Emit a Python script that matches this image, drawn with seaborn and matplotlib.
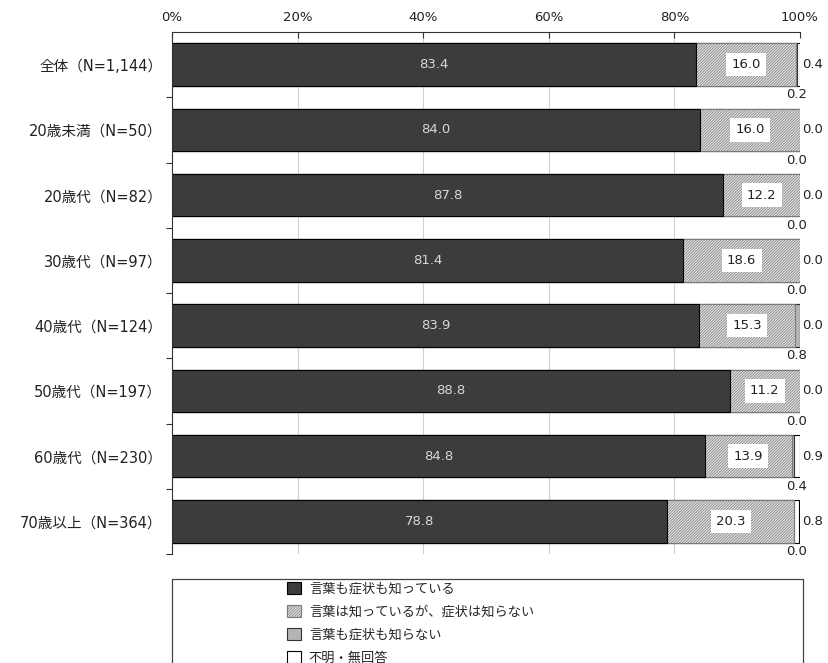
import matplotlib
matplotlib.use("Agg")
import matplotlib.pyplot as plt
from matplotlib.patches import Patch, Rectangle
from matplotlib.ticker import FixedLocator
import numpy as np
import pandas as pd
import seaborn as sns

# Survey groups and response shares (%)
groups = ["全体（N=1,144）", "20歳未満（N=50）", "20歳代（N=82）", "30歳代（N=97）",
          "40歳代（N=124）", "50歳代（N=197）", "60歳代（N=230）", "70歳以上（N=364）"]
know_both = [83.4, 84.0, 87.8, 81.4, 83.9, 88.8, 84.8, 78.8]
know_word_only = [16.0, 16.0, 12.2, 18.6, 15.3, 11.2, 13.9, 20.3]
know_neither = [0.2, 0.0, 0.0, 0.0, 0.8, 0.0, 0.4, 0.0]
no_answer = [0.4, 0.0, 0.0, 0.0, 0.0, 0.0, 0.9, 0.8]
series_names = ["言葉も症状も知っている", "言葉は知っているが、症状は知らない",
                "言葉も症状も知らない", "不明・無回答"]
tick_labels = ["0%", "20%", "40%", "60%", "80%", "100%"]

sns.set_theme(style="white")
plt.rcParams["font.family"] = ["Noto Sans CJK JP", "DejaVu Sans"]
plt.rcParams["hatch.linewidth"] = 0.5

df = pd.DataFrame({
    "group": groups,
    "s1": know_both,
    "s2": know_word_only,
    "s3": know_neither,
    "s4": no_answer,
})
df["c1"] = df["s1"]
df["c2"] = df["c1"] + df["s2"]
df["c3"] = df["c2"] + df["s3"]
df["c4"] = df["c3"] + df["s4"]

fig = plt.figure(figsize=(8.29, 6.63), dpi=100)
ax = fig.add_axes([172 / 829, 1 - 554 / 663, (800 - 172) / 829, (554 - 32) / 663])

bar_h = 0.65
edge_kw = dict(orient="h", width=bar_h, linewidth=0.8, ax=ax, legend=False)

dark = "#3c3c3c"
hatch_face = "#e2e2e2"
hatch_line = "#7a7a7a"
mid_gray = "#b4b4b4"
hatch_pat = "////////////"

# Cumulative layers drawn from the outermost inward
sns.barplot(data=df, x="c4", y="group", color="white", edgecolor="black",
            saturation=1, **edge_kw)
sns.barplot(data=df, x="c3", y="group", color=mid_gray, edgecolor="#333333",
            saturation=1, **edge_kw)
sns.barplot(data=df, x="c2", y="group", color=hatch_face, edgecolor=hatch_line,
            hatch=hatch_pat, saturation=1, **edge_kw)
sns.barplot(data=df, x="c1", y="group", color=dark, edgecolor="black",
            saturation=1, **edge_kw)

ax.set_xlim(0, 100)
ax.set_ylim(len(groups) - 0.5, -0.5)
ax.set_xlabel("")
ax.set_ylabel("")

# Value labels
for i, row in df.iterrows():
    ax.text(row["s1"] / 2, i, f"{row['s1']:.1f}", ha="center", va="center",
            color="#d8d8d8", fontsize=9.5, family="DejaVu Sans")
    ax.text(row["c1"] + row["s2"] / 2, i, f"{row['s2']:.1f}", ha="center",
            va="center", color="#222222", fontsize=9.5, family="DejaVu Sans",
            bbox=dict(boxstyle="square,pad=0.4", facecolor="white",
                      edgecolor="none"))
    ax.text(100.3, i, f"{row['s4']:.1f}", ha="left", va="center",
            color="#222222", fontsize=9.5, family="DejaVu Sans", clip_on=False)
    ax.text(99.4, i + bar_h / 2 + 0.04, f"{row['s3']:.1f}", ha="center",
            va="top", color="#222222", fontsize=9.5, family="DejaVu Sans",
            clip_on=False)

# Axes styling: percent scale on top, category ticks at the left
ax.xaxis.tick_top()
ax.set_xticks(np.arange(0, 101, 20))
ax.set_xticklabels(tick_labels, fontsize=9.5, color="#222222", family="DejaVu Sans")
ax.tick_params(axis="x", which="major", direction="in", length=4, width=0.8,
               color="#333333", pad=6, top=True, bottom=False)
for xv in [20, 40, 60, 80]:
    ax.axvline(xv, color="#d0d0d0", linewidth=0.8, zorder=0)

ax.set_yticks(range(len(groups)))
ax.set_yticklabels(groups, fontsize=10.5, color="#222222",
                   family=["DejaVu Sans", "Noto Sans CJK JP"])
ax.tick_params(axis="y", which="major", length=0, pad=7)
ax.yaxis.set_minor_locator(FixedLocator(np.arange(0.5, len(groups), 1.0)))
ax.tick_params(axis="y", which="minor", direction="out", length=4, width=0.8,
               color="#333333", left=True)

for side in ["right", "bottom"]:
    ax.spines[side].set_visible(False)
for side in ["top", "left"]:
    ax.spines[side].set_visible(True)
    ax.spines[side].set_color("#333333")
    ax.spines[side].set_linewidth(0.8)

# Legend box
fig.patches.append(Rectangle((172 / 829, -0.05), (803 - 172) / 829,
                             0.05 + 1 - 579 / 663, transform=fig.transFigure,
                             facecolor="white", edgecolor="#444444",
                             linewidth=0.9))
handles = [
    Patch(facecolor=dark, edgecolor="black", linewidth=0.8),
    Patch(facecolor=hatch_face, edgecolor=hatch_line, hatch=hatch_pat, linewidth=0.8),
    Patch(facecolor=mid_gray, edgecolor="#333333", linewidth=0.8),
    Patch(facecolor="white", edgecolor="black", linewidth=0.8),
]
fig.legend(handles, series_names, loc="upper left",
           bbox_to_anchor=(287 / 829, 1 - 582 / 663), frameon=False,
           fontsize=9.5, handlelength=1.05, handleheight=1.0, handletextpad=0.6,
           labelspacing=0.72, borderpad=0, borderaxespad=0)

fig.savefig("out.png", dpi=100)
